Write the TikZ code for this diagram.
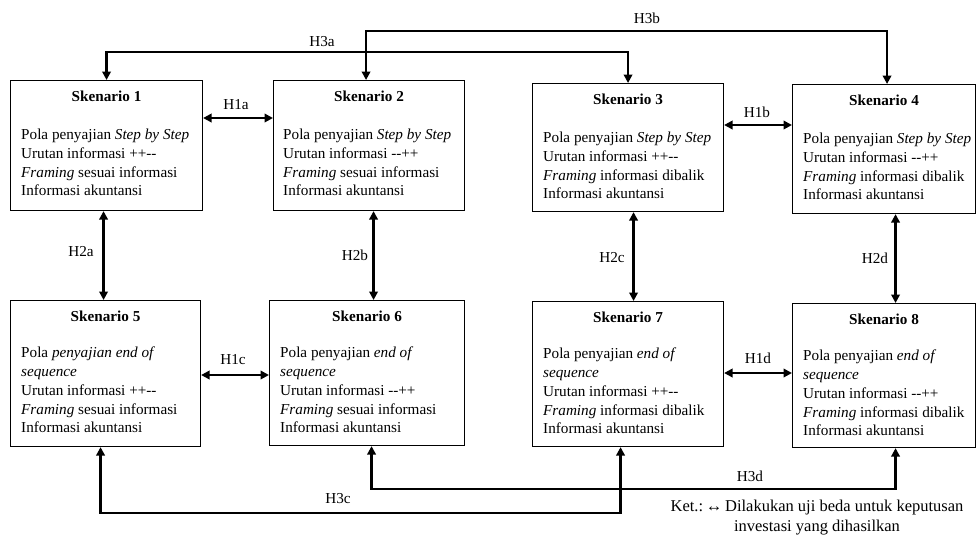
\documentclass[tikz,border=0pt]{standalone}
\usepackage{fontspec}
\setmainfont{Liberation Serif}
\usetikzlibrary{arrows.meta,calc}
\begin{document}
\begin{tikzpicture}[x=1pt,y=-1pt,
 box/.style={draw,line width=1.1pt,anchor=north west,inner sep=0pt},
 ttl/.style={font=\fontsize{15.2}{18}\selectfont\bfseries,anchor=base,inner sep=0pt},
 body/.style={font=\fontsize{15.2}{18.7}\selectfont,align=left,anchor=north west,inner sep=0pt},
 lbl/.style={font=\fontsize{15.2}{18}\selectfont,inner sep=0pt},
 dbl/.style={line width=2.2pt,{Triangle[length=8.5pt,width=8.5pt]}-{Triangle[length=8.5pt,width=8.5pt]}},
]
\useasboundingbox (0,0) rectangle (977,539);
% boxes
\node[box,minimum width=192pt,minimum height=130pt] (s1) at (10,80) {};
\node[box,minimum width=191pt,minimum height=130pt] (s2) at (273,80) {};
\node[box,minimum width=191pt,minimum height=128pt] (s3) at (532,83) {};
\node[box,minimum width=183pt,minimum height=129pt] (s4) at (792,84) {};
\node[box,minimum width=190pt,minimum height=146pt] (s5) at (10,300) {};
\node[box,minimum width=195pt,minimum height=145pt] (s6) at (269,300) {};
\node[box,minimum width=191pt,minimum height=145pt] (s7) at (532,301) {};
\node[box,minimum width=183pt,minimum height=144pt] (s8) at (792,303) {};
% titles
\foreach \i in {1,...,8}{
  \node[ttl] (t\i) at ($(s\i.north)+(0,21)$) {Skenario \i};
}
% bodies
\node[body] (b1) at ($(s1.north west)+(11,49)$) {Pola penyajian \textit{Step by Step}\\Urutan informasi ++-{}-\\\textit{Framing} sesuai informasi\\Informasi akuntansi};
\node[body] (b2) at ($(s2.north west)+(10,49)$) {Pola penyajian \textit{Step by Step}\\Urutan informasi -{}-++\\\textit{Framing} sesuai informasi\\Informasi akuntansi};
\node[body] (b3) at ($(s3.north west)+(11,49)$) {Pola penyajian \textit{Step by Step}\\Urutan informasi ++-{}-\\\textit{Framing} informasi dibalik\\Informasi akuntansi};
\node[body] (b4) at ($(s4.north west)+(11,49)$) {Pola penyajian \textit{Step by Step}\\Urutan informasi -{}-++\\\textit{Framing} informasi dibalik\\Informasi akuntansi};
\node[body] (b5) at ($(s5.north west)+(11,47)$) {Pola \textit{penyajian end of}\\\textit{sequence}\\Urutan informasi ++-{}-\\\textit{Framing} sesuai informasi\\Informasi akuntansi};
\node[body] (b6) at ($(s6.north west)+(11,47)$) {Pola penyajian \textit{end of}\\\textit{sequence}\\Urutan informasi -{}-++\\\textit{Framing} sesuai informasi\\Informasi akuntansi};
\node[body] (b7) at ($(s7.north west)+(11,47)$) {Pola penyajian \textit{end of}\\\textit{sequence}\\Urutan informasi ++-{}-\\\textit{Framing} informasi dibalik\\Informasi akuntansi};
\node[body] (b8) at ($(s8.north west)+(11,47)$) {Pola penyajian \textit{end of}\\\textit{sequence}\\Urutan informasi -{}-++\\\textit{Framing} informasi dibalik\\Informasi akuntansi};
% H1 connectors
\coordinate (c1a) at ($(s1.north east)+(0,38)$);
\draw[dbl] (c1a) -- (c1a -| s2.west);
\coordinate (c1b) at ($(s3.north east)+(0,42)$);
\draw[dbl] (c1b) -- (c1b -| s4.west);
\coordinate (c1c) at ($(s5.north east)+(0,75)$);
\draw[dbl] (c1c) -- (c1c -| s6.west);
\coordinate (c1d) at ($(s7.north east)+(0,72)$);
\draw[dbl] (c1d) -- (c1d -| s8.west);
% H2 connectors
\coordinate (c2a) at ($(s1.south)+(-3,0)$);
\draw[dbl] (c2a) -- (c2a |- s5.north);
\coordinate (c2b) at ($(s2.south)+(4.5,0)$);
\draw[dbl] (c2b) -- (c2b |- s6.north);
\coordinate (c2c) at ($(s3.south)+(5.5,0)$);
\draw[dbl] (c2c) -- (c2c |- s7.north);
\coordinate (c2d) at ($(s4.south)+(11.5,0)$);
\draw[dbl] (c2d) -- (c2d |- s8.north);
% H3 connectors
\draw[dbl] (s1.north) -- ++(0,-28) -| (s3.north);
\draw[dbl] ($(s2.north)+(-3,0)$) -- ++(0,-49) -| ($(s4.north)+(3,0)$);
\draw[dbl] ($(s5.south)+(-5,0)$) -- ++(0,66) -| ($(s7.south)+(-7.5,0)$);
\draw[dbl] ($(s6.south)+(4.5,0)$) -- ++(0,43) -| ($(s8.south)+(11.5,0)$);
% labels
\node[lbl] (l3a) at (322,42) {H3a};
\node[lbl] (l3b) at (647,18) {H3b};
\node[lbl] (l1a) at (236,105) {H1a};
\node[lbl] (l1b) at (757,112) {H1b};
\node[lbl] (l2a) at (81,252) {H2a};
\node[lbl] (l2b) at (355,255) {H2b};
\node[lbl] (l2c) at (612,258) {H2c};
\node[lbl] (l2d) at (875,258) {H2d};
\node[lbl] (l1c) at (233,360) {H1c};
\node[lbl] (l1d) at (758,358) {H1d};
\node[lbl] (l3c) at (338,499) {H3c};
\node[lbl] (l3d) at (750,476) {H3d};
% legend
\node[lbl,align=center,font=\fontsize{16.5}{19.5}\selectfont] (ket) at (817,517.5) {Ket.:\,↔\,Dilakukan uji beda untuk keputusan\\investasi yang dihasilkan};
\end{tikzpicture}
\end{document}
